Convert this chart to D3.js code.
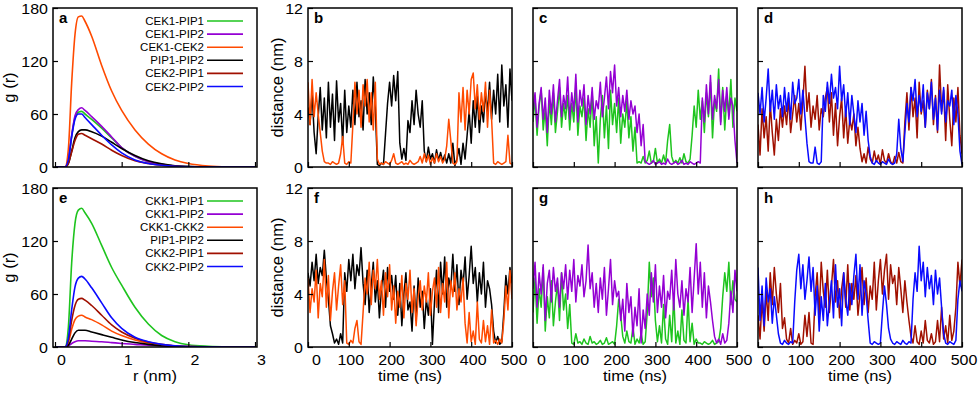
<!DOCTYPE html>
<html>
<head>
<meta charset="utf-8">
<script src="https://d3js.org/d3.v7.min.js"></script>
<style>
body { margin: 0; background: #fff; }
text { font-family: "Liberation Sans", Arial, sans-serif; fill: #000; }
.frame { fill: none; stroke: #000; stroke-width: 1.5; }
.trace { fill: none; stroke-width: 1.5; stroke-linejoin: round; }
.rdf { fill: none; stroke-width: 1.6; }
</style>
</head>
<body>
<svg id="fig" width="980" height="393"></svg>
<script>
var rGrid = [0, 0.15, 0.2, 0.25, 0.3, 0.35, 0.4, 0.45, 0.55, 0.7, 0.85, 1.0, 1.2, 1.4, 1.6, 1.8, 2.0, 2.3, 2.6, 3.0];

var aNames = ["CEK1-PIP1", "CEK1-PIP2", "CEK1-CEK2", "PIP1-PIP2", "CEK2-PIP1", "CEK2-PIP2"];
var aGreen  = [0, 0, 8, 35, 56, 62, 63, 60, 54, 44, 33, 22, 12, 6, 3, 1.2, 0.5, 0.2, 0, 0];
var aPurple = [0, 0, 8, 36, 58, 65, 67, 64, 57, 46, 34, 22, 12, 6, 3, 1.2, 0.5, 0.2, 0, 0];
var aOrange = [0, 0, 20, 95, 150, 170, 171, 165, 148, 115, 86, 64, 42, 26, 15, 8, 4, 1.2, 0.3, 0];
var aBlack  = [0, 0, 4, 18, 33, 40, 42, 42, 40, 35, 28, 21, 13, 7, 3.5, 1.5, 0.6, 0.2, 0, 0];
var aRed    = [0, 0, 4, 17, 30, 37, 38, 36, 32, 26, 19, 13, 7, 4, 2, 0.8, 0.3, 0, 0, 0];
var aBlue   = [0, 0, 8, 34, 54, 60, 60, 56, 48, 36, 25, 16, 8, 4, 2, 0.8, 0.3, 0, 0, 0];

var eNames = ["CKK1-PIP1", "CKK1-PIP2", "CKK1-CKK2", "PIP1-PIP2", "CKK2-PIP1", "CKK2-PIP2"];
var eGreen  = [0, 0, 22, 95, 140, 155, 157, 152, 140, 115, 90, 70, 45, 26, 13, 6, 2.5, 0.8, 0.2, 0];
var ePurple = [0, 0, 1, 4, 6, 7, 7, 7, 6.5, 6, 5, 4, 3, 2, 1.3, 0.8, 0.5, 0.2, 0.1, 0];
var eOrange = [0, 0, 5, 20, 31, 35, 36, 34, 31, 25, 18, 13, 8, 4.5, 2.5, 1.2, 0.5, 0.2, 0, 0];
var eBlack  = [0, 0, 2, 9, 16, 19, 19, 19, 17, 14, 11, 8, 5, 3, 1.6, 0.8, 0.3, 0.1, 0, 0];
var eRed    = [0, 0, 7, 30, 47, 54, 55, 53, 47, 36, 25, 17, 10, 5.5, 3, 1.2, 0.5, 0.2, 0, 0];
var eBlue   = [0, 0, 10, 42, 68, 78, 80, 77, 67, 50, 33, 21, 11, 6, 3, 1.3, 0.5, 0.2, 0, 0];

// ---- distance traces, one reading every 5 ns from 0 to 500 ns ----
var bBlack = [4.5, 3.2, 5.6, 2.6, 1.0, 3.8, 6.0, 2.8, 5.2, 2.2,
  6.4, 3.0, 5.5, 2.0, 6.5, 3.4, 4.8, 1.8, 5.8, 2.6, 4.6, 3.0,
  5.8, 3.2, 6.4, 3.8, 5.0, 2.8, 6.6, 4.0, 5.6, 3.2, 6.8, 4.4,
  0.2, 0.1, 0.3, 0.2, 2.5, 4.8,
  6.4, 4.6, 6.9, 5.0, 7.2,
  1.8, 0.6, 1.4, 0.5,
  3.5, 2.6, 5.0, 3.2, 5.8, 4.0, 3.0, 5.0,
  1.2, 0.4, 1.5, 0.6, 1.0, 0.3, 1.3, 0.5, 1.1, 0.4, 0.9, 0.3,
  1.0, 0.3, 1.8, 0.1, 0.6, 1.4, 0.2, 1.8, 0.6,
  2.4, 4.2, 1.8, 5.0, 3.0, 5.4, 2.6, 4.6, 3.4, 5.6,
  4.2, 6.4, 3.6, 5.8, 4.0, 7.0, 3.4, 7.7, 4.6, 6.2, 3.0, 7.4, 5.0];
var bOrange = [6.4, 3.2, 6.6, 3.8, 5.6,
  4.0, 2.6, 1.2, 0.4, 0.3,
  0.3, 0.2, 0.4, 0.3, 0.2, 0.3, 1.0, 2.3, 0.3, 0.2, 0.4, 0.3,
  3.2, 6.4, 4.0, 5.8, 3.0, 6.2, 4.6, 6.6, 3.4, 5.6, 2.8, 6.4,
  0.6, 0.2, 0.3, 0.2, 0.4, 0.3, 0.2, 0.5, 1.0, 0.3, 0.2, 0.3, 0.4, 0.2, 0.3, 0.2, 0.5, 0.3, 0.2, 0.3, 0.4,
  0.8, 0.3, 1.0, 0.4, 0.9, 0.2, 0.7, 0.3, 1.0, 0.4, 0.8, 0.3, 0.6,
  1.6, 3.6, 2.0,
  0.3, 0.2, 0.4,
  5.6, 3.4, 6.0, 2.8, 5.8, 4.0, 6.6, 7.1, 4.4, 6.2, 3.6, 5.6, 4.2, 6.4, 3.0, 5.8, 3.6,
  0.3, 0.2, 0.4, 0.3, 0.2, 0.3, 0.4, 2.4, 0.3, 0.2];

var cPurple = [4.2, 5.6, 3.0, 4.8, 6.0, 3.6, 5.2, 2.6, 5.8, 4.0, 6.2, 3.4, 5.0, 6.6, 3.8, 5.4, 4.4,
  6.8, 3.6, 5.6, 4.2, 7.0, 3.4, 5.8, 4.6, 6.2, 3.2, 5.4, 4.0, 6.0, 3.6, 5.0, 4.4, 6.4, 3.8,
  5.2, 6.8, 4.4, 7.2, 5.6, 7.7,
  4.6, 6.0, 3.8, 5.4, 4.2, 5.8, 3.6, 5.0, 4.0,
  4.6, 2.6, 4.0, 1.6, 3.2,
  0.4, 0.3, 0.2, 0.3, 0.5, 0.2, 0.3, 0.4, 0.2, 0.3, 0.2, 0.6, 0.3, 0.2, 0.3, 0.4, 0.2, 0.3, 0.5, 0.2, 0.3, 0.2, 0.4, 0.3, 0.2, 0.3, 0.4, 0.3,
  5.2, 3.4, 6.2, 4.0, 6.9, 3.6, 5.4, 4.4, 6.6, 3.2, 5.8, 4.2, 6.0, 3.6, 5.2, 4.6,
  2.0, 0.3];
var cGreen = [3.4, 5.2, 2.4, 4.6, 5.8, 2.8, 4.4, 1.6, 5.0, 3.2, 5.6, 2.6, 4.2, 6.0, 3.0, 4.8, 3.6,
  5.4, 2.8, 4.8, 3.4, 6.0, 2.4, 4.6, 3.8, 5.2, 2.0, 4.4, 3.0, 5.6, 1.6, 3.8, 0.3,
  3.6, 5.4, 2.2, 4.6, 1.4, 5.8, 3.2, 4.8, 2.6, 5.2, 1.8, 4.0, 3.0, 5.0, 2.2, 3.8, 1.2, 3.0, 0.3,
  0.4, 0.3, 0.8, 0.3, 0.5, 1.2, 0.3, 0.4, 1.4, 0.3, 0.6, 0.3, 0.9, 0.3, 2.0, 3.2, 0.8, 0.3, 0.5, 0.3, 0.7, 0.3, 1.0, 0.4, 0.3, 0.6,
  2.4, 4.6, 3.0, 5.8, 3.6, 5.0,
  2.6, 5.6, 3.8, 6.4, 2.2, 5.0, 4.2, 7.4, 3.4, 6.0, 2.8, 5.4, 4.0, 6.6, 3.0, 5.2, 4.2];

var dBlue = [5.6, 4.0, 6.0, 3.4, 5.2, 7.4, 4.2, 5.8, 3.6, 6.2, 4.4, 5.4, 3.8,
  6.0, 4.2, 5.6, 3.6, 6.4, 4.8, 5.2, 6.6, 4.0, 5.8, 3.8,
  1.8, 0.4, 0.3,
  0.3, 1.5, 0.3, 0.2, 0.4,
  5.4, 4.2, 6.4, 4.8, 7.0, 5.2, 6.0, 4.4, 7.6,
  5.0, 6.2, 3.8, 5.6, 3.2, 5.4, 4.0, 2.6, 5.0, 3.4, 4.8, 2.4, 4.2, 2.0,
  0.8, 0.3, 0.2, 0.5, 0.3, 0.2, 0.4, 0.3, 0.2, 0.6, 0.3, 0.2, 0.3,
  1.0, 3.6, 1.4, 0.4, 2.6,
  4.8, 3.4, 6.0, 5.0, 6.6, 3.8, 5.4, 4.2, 6.2, 3.0, 5.6, 4.4, 6.4, 3.6, 5.2, 2.8, 5.8, 4.0, 6.0, 3.4, 5.0, 4.6, 5.8, 3.2, 5.4, 4.0,
  1.2, 0.2];
var dRed = [3.2, 0.9, 4.4, 2.2, 3.8, 1.2, 4.8, 2.6, 0.9, 3.6, 2.0, 4.4, 3.0,
  4.6, 3.2, 5.2, 2.6, 4.0, 5.4, 3.4, 4.8, 2.8, 5.0, 7.6, 4.2, 5.6, 3.0, 4.6, 3.6, 5.4, 2.8, 4.4, 3.8, 5.2,
  6.0, 3.4, 5.6, 2.4, 4.8, 1.6, 3.8, 5.2, 2.2, 4.4, 1.8, 3.6, 2.8, 4.0, 1.6, 3.0,
  1.4, 0.4, 1.0, 0.3, 1.5, 0.6, 0.3, 1.2, 0.4, 0.9, 0.2, 1.3, 0.5, 0.3, 1.0, 0.4, 0.2, 0.8, 0.3, 1.1, 0.4, 0.3,
  3.4, 5.6, 2.8, 6.0, 3.8, 5.2, 2.2, 6.4, 4.0, 5.0, 3.0, 5.8, 4.4, 6.6, 3.2, 5.4, 2.6, 7.7, 4.2, 5.8, 2.0, 6.2, 3.6, 1.6, 5.2, 3.4, 6.0, 2.4, 1.0];

var fBlack = [5.6, 4.6, 6.4, 5.0, 7.0, 4.8, 6.0, 5.4, 7.3, 5.2,
  3.6, 1.6, 1.0,
  0.3, 0.6, 0.2, 1.0, 0.3,
  5.6, 4.2, 6.6, 5.0, 7.0, 4.4, 6.2, 5.4, 7.5, 4.8,
  3.2, 5.8, 2.6, 4.6, 6.4, 3.4, 5.0, 2.2, 4.4, 5.8, 3.0, 6.0, 4.2, 5.4,
  3.6, 5.4, 2.4, 4.8, 1.6, 4.0, 5.6, 2.8, 3.4, 1.2, 4.6, 2.0, 5.2, 3.0, 4.2, 1.4, 3.6, 2.4, 4.4,
  0.2,
  3.4, 5.8, 2.6, 6.4, 4.0, 6.8, 3.0, 5.2, 4.4, 7.0,
  4.2, 6.2, 3.2, 5.8, 4.6, 6.8, 3.6, 5.4, 7.6, 4.8,
  6.0, 3.4, 5.6, 4.0, 6.4, 3.0, 5.0, 4.4, 3.2,
  1.2, 0.3, 0.8, 0.2, 0.4,
  2.6, 5.4, 4.0, 6.0, 4.8];
var fOrange = [5.2, 2.6, 4.4, 3.4, 5.8, 2.2, 4.8, 3.8, 6.6, 3.0, 5.4, 2.0, 4.2, 5.6, 2.8, 4.6, 6.2, 3.2, 5.0,
  0.3, 0.2, 0.5, 0.3, 1.4, 2.0, 0.4, 0.2,
  2.6, 5.2, 4.0, 6.4, 3.2, 5.8, 4.4, 6.6, 3.6, 5.0, 2.4, 5.6, 3.8, 6.2, 2.8, 4.6, 1.8, 4.2, 3.0, 5.4,
  2.2, 4.8, 3.6, 5.8, 2.6, 4.4, 1.6, 3.8, 5.0, 2.8, 4.6, 3.4, 5.6, 2.4, 4.2, 5.2, 3.0, 6.0, 2.6, 4.8,
  3.4, 6.4, 2.2, 5.0, 3.8, 5.6, 2.8, 4.4, 3.4, 5.2,
  1.8, 0.3, 2.6, 0.4, 1.2, 0.2, 3.4, 0.6, 0.3, 2.0, 0.4, 1.6, 0.2, 2.8,
  0.3, 0.5, 0.2, 0.6, 0.3,
  2.0, 4.6, 2.8, 5.8, 3.6];

var gPurple = [4.4, 6.4, 3.0, 5.6, 4.0, 6.2, 2.0, 4.8, 5.8, 3.4, 6.0, 4.2, 5.2, 3.0, 5.6, 4.4, 6.2,
  3.6, 5.8, 4.2, 6.6, 3.4, 5.4, 4.6, 6.2, 3.8, 5.0, 7.7, 4.4,
  5.6, 3.0, 4.8, 2.6, 5.2, 3.6, 6.0, 2.4, 4.4, 6.6, 3.2, 5.0, 3.8,
  4.2, 2.0, 3.6, 1.2, 4.8, 2.6, 3.8, 0.8, 3.0, 1.6, 4.4, 0.3, 2.8, 1.4,
  4.0, 2.4, 5.6, 3.4, 6.2, 2.6, 4.6, 3.0, 5.4, 2.2, 4.2, 3.6, 5.8, 2.8, 6.6, 4.0, 3.0, 5.0, 2.4, 4.4,
  3.4, 6.0, 2.6, 5.2, 7.8, 4.0, 6.4, 3.0, 5.6, 2.2, 4.6, 3.4, 2.0,
  0.8, 0.3, 0.6, 0.2, 1.0, 0.3, 0.5, 1.8,
  4.2, 2.6, 5.8, 4.2];
var gGreen = [2.6, 5.2, 1.8, 4.4, 3.0, 6.0, 1.2, 3.8, 2.2, 5.0, 1.6, 3.4, 4.8, 2.0, 5.6, 2.8, 4.0, 1.4, 3.2,
  0.3, 0.2, 1.0, 0.3, 0.4, 0.2, 0.6, 0.3, 0.2, 0.8, 0.3, 0.4, 0.2, 0.3, 0.5, 0.2, 0.3, 0.7, 0.2, 0.3, 0.4, 0.2,
  1.6, 3.6, 2.4, 0.8,
  0.3, 1.2, 0.4, 0.3, 1.5, 0.2, 0.6, 0.3, 1.0, 0.2, 0.4,
  2.6, 6.4, 3.8, 5.2, 2.0,
  0.4, 1.6, 0.3, 3.2, 0.6, 0.2, 2.4, 0.4, 3.8, 0.3, 1.2, 0.2, 2.8, 0.5, 0.3, 3.6, 0.4, 1.8, 0.2, 0.6, 0.3,
  0.3, 0.2, 0.4, 0.3, 0.2, 0.3, 0.5, 0.2, 0.3, 0.4,
  1.4, 3.8, 5.6, 4.2, 6.4, 3.2, 5.0, 3.6, 3.4];

var hBlue = [6.0, 2.0, 4.6, 1.6, 5.2, 3.4, 4.4, 1.8, 3.8, 2.4, 1.0,
  0.3, 0.2, 0.5, 0.3, 0.2, 0.4, 0.3,
  3.4, 5.8, 7.0, 4.4, 6.2, 3.6, 5.0, 6.8, 4.2, 6.0,
  2.4, 4.6, 1.2, 3.8, 2.0, 4.8, 1.6, 3.4,
  5.0, 2.2, 6.2, 3.0, 4.4, 1.6, 5.6, 3.6, 2.4, 4.8, 3.2,
  5.4, 7.0, 3.6, 6.2, 2.4, 5.0, 4.0, 2.0,
  0.3, 0.2, 0.4, 0.3, 0.2, 0.3,
  2.6, 4.6, 3.2, 1.4, 0.6,
  0.3, 0.2, 0.4, 0.3, 0.2, 0.5, 0.3, 0.2, 0.4, 0.3,
  3.6, 5.6, 4.2, 7.6, 5.0, 6.4, 3.8, 6.0, 4.4, 5.4, 3.2, 5.8, 4.0, 5.2, 3.0,
  1.0, 0.3, 0.2, 0.4, 0.3, 0.2, 0.5,
  3.6, 5.0, 4.2];
var hRed = [2.4, 0.6, 3.6, 1.2, 4.2, 2.0, 5.6, 3.2, 6.0, 4.0, 2.6, 4.8, 1.4, 2.2,
  0.6, 0.3, 1.4, 0.2, 0.5, 0.3, 1.0, 0.2, 0.4, 2.4, 0.8, 2.6, 0.3, 0.2,
  3.8, 5.6, 2.4, 6.4, 4.2, 3.0, 5.8, 2.6, 4.6, 6.6, 3.4, 5.0, 2.2, 4.4, 5.6, 3.0, 6.2, 2.8, 4.8, 3.6, 5.4, 2.4, 4.0, 6.0, 3.2, 5.2, 2.6, 4.6, 3.6, 6.4, 2.8, 5.0,
  6.6, 4.0, 5.8, 7.0, 3.6, 6.2, 4.8, 5.4, 3.2, 6.0, 4.4, 2.6, 5.0, 3.4, 2.0,
  0.8, 0.3, 1.6, 0.4, 0.2, 1.2, 0.3, 2.0, 0.5, 0.3, 1.0, 0.2, 0.4,
  2.0, 0.4, 3.0, 0.6, 1.6, 0.3, 2.4, 0.5, 1.2,
  3.0, 6.4, 4.6, 6.6];

var rTicks = [0, 1, 2, 3];
var gTicks = [0, 60, 120, 180];
var tTicks = [0, 100, 200, 300, 400, 500];
var dTicks = [0, 4, 8, 12];

var col = {green: "#1ec41e", purple: "#9400d3", orange: "#ff4a00", black: "#000000", red: "#a01000", blue: "#0a0aff"};

var svg = d3.select("#fig");
var colLeft = [53, 308, 533, 758];
var rowTop = [8, 188];
var pw = 204, ph = 159;
var fs = 16;
var squash = " scale(1,0.87)"; // the original figure's lettering is a bit flattened

function panel(left, top, xDom, yDom, xt, yt, showX, showY, letter) {
  var g = svg.append("g").attr("transform", "translate(" + left + "," + top + ")");
  var x = d3.scaleLinear().domain(xDom).range([0, pw]);
  var y = d3.scaleLinear().domain(yDom).range([ph, 0]);
  var clip = "clip" + letter;
  g.append("clipPath").attr("id", clip).append("rect").attr("width", pw).attr("height", ph);
  var plot = g.append("g").attr("clip-path", "url(#" + clip + ")");

  var xa = g.append("g").attr("transform", "translate(0," + ph + ")")
    .call(d3.axisBottom(x).tickValues(xt).tickSize(-5).tickFormat(showX ? d3.format("d") : ""));
  var ya = g.append("g").call(d3.axisLeft(y).tickValues(yt).tickSize(-5).tickFormat(showY ? d3.format("d") : ""));
  [xa, ya].forEach(function(a) {
    a.select(".domain").remove();
    a.selectAll("line").attr("stroke", "#000").attr("stroke-width", 1.2);
    a.selectAll("text").attr("font-size", fs).attr("font-family", "Liberation Sans, Arial, sans-serif")
      .attr("fill", "#000").attr("x", null).attr("y", null).attr("dy", null);
  });
  ya.selectAll("text").attr("transform", "translate(-5,5.5)" + squash);

  g.append("rect").attr("class", "frame").attr("width", pw).attr("height", ph);
  g.append("text").attr("x", 6).attr("y", 15).attr("font-weight", "bold").attr("font-size", 15).text(letter);
  return {g: g, plot: plot, x: x, y: y, xa: xa};
}

function rdfPanel(left, top, letter, names, series, showX) {
  var p = panel(left, top, [-0.03, 3.03], [0, 180], rTicks, gTicks, showX, true, letter);
  var line = d3.line().x(function(d, i) { return p.x(rGrid[i]); }).y(function(d) { return p.y(d); }).curve(d3.curveMonotoneX);
  series.forEach(function(s) {
    p.plot.append("path").attr("class", "rdf").attr("stroke", s.c).attr("d", line(s.v));
  });
  p.xa.selectAll("text").attr("transform", "translate(6,18)" + squash);
  var leg = p.g.append("g");
  series.forEach(function(s, i) {
    var yy = 13 + i * 13.1;
    leg.append("text").attr("x", 151).attr("y", yy + 4).attr("text-anchor", "end").attr("font-size", 11.5).text(names[i]);
    leg.append("line").attr("x1", 154).attr("x2", 190).attr("y1", yy).attr("y2", yy).attr("stroke", s.c).attr("stroke-width", 1.6);
  });
}

function tracePanel(left, top, letter, series, showX, showY) {
  var p = panel(left, top, [0, 500], [0, 12], tTicks, dTicks, showX, showY, letter);
  var line = d3.line().x(function(d, i) { return p.x(i * 5); }).y(function(d) { return p.y(d); });
  series.forEach(function(s) {
    p.plot.append("path").attr("class", "trace").attr("stroke", s.c).attr("d", line(s.v));
  });
  p.xa.selectAll("text").attr("transform", function(d) {
    return "translate(" + (d === 0 ? 8 : 1.5) + ",18)" + squash;
  });
}

rdfPanel(colLeft[0], rowTop[0], "a", aNames, [
  {v: aGreen, c: col.green}, {v: aPurple, c: col.purple}, {v: aOrange, c: col.orange},
  {v: aBlack, c: col.black}, {v: aRed, c: col.red}, {v: aBlue, c: col.blue}], false);
rdfPanel(colLeft[0], rowTop[1], "e", eNames, [
  {v: eGreen, c: col.green}, {v: ePurple, c: col.purple}, {v: eOrange, c: col.orange},
  {v: eBlack, c: col.black}, {v: eRed, c: col.red}, {v: eBlue, c: col.blue}], true);

tracePanel(colLeft[1], rowTop[0], "b", [{v: bBlack, c: col.black}, {v: bOrange, c: col.orange}], false, true);
tracePanel(colLeft[2], rowTop[0], "c", [{v: cGreen, c: col.green}, {v: cPurple, c: col.purple}], false, false);
tracePanel(colLeft[3], rowTop[0], "d", [{v: dRed, c: col.red}, {v: dBlue, c: col.blue}], false, false);
tracePanel(colLeft[1], rowTop[1], "f", [{v: fBlack, c: col.black}, {v: fOrange, c: col.orange}], true, true);
tracePanel(colLeft[2], rowTop[1], "g", [{v: gGreen, c: col.green}, {v: gPurple, c: col.purple}], true, false);
tracePanel(colLeft[3], rowTop[1], "h", [{v: hRed, c: col.red}, {v: hBlue, c: col.blue}], true, false);

// axis titles
function vTitle(x, y, t) {
  svg.append("text").attr("transform", "translate(" + x + "," + y + ") rotate(-90)")
    .attr("text-anchor", "middle").attr("font-size", 16.5).text(t);
}
vTitle(15, rowTop[0] + ph / 2, "g (r)");
vTitle(15, rowTop[1] + ph / 2, "g (r)");
vTitle(283, rowTop[0] + ph / 2, "distance (nm)");
vTitle(283, rowTop[1] + ph / 2, "distance (nm)");

[["r (nm)", colLeft[0]], ["time (ns)", colLeft[1]], ["time (ns)", colLeft[2]], ["time (ns)", colLeft[3]]].forEach(function(d) {
  svg.append("text").attr("transform", "translate(" + (d[1] + pw / 2) + ",381)" + squash)
    .attr("text-anchor", "middle").attr("font-size", 16.5).text(d[0]);
});
</script>
</body>
</html>
